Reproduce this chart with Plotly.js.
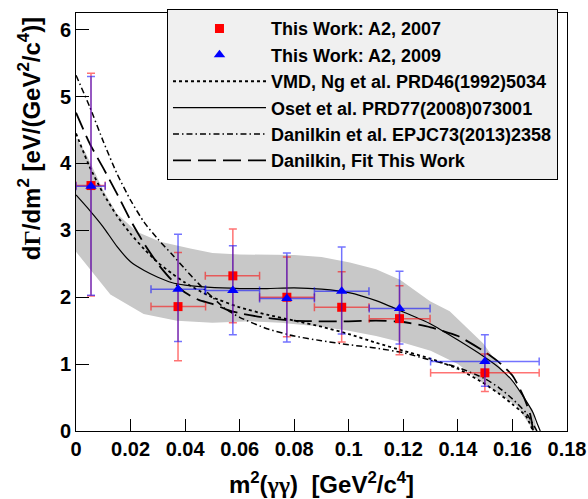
<!DOCTYPE html>
<html>
<head>
<meta charset="utf-8">
<script src="https://cdn.plot.ly/plotly-3.0.1.min.js"></script>
<style>html,body{margin:0;padding:0;background:#fff;}#chart{width:588px;height:499px;}</style>
</head>
<body>
<div id="chart"></div>
<script>
// ---- Data ----
// A2 2007 (red squares)
const x2007 = [0.0055, 0.0374, 0.0575, 0.0773, 0.0974, 0.1186, 0.1499];
const y2007 = [3.67, 1.86, 2.32, 2.00, 1.85, 1.68, 0.87];
const y2007Hi = [5.35, 2.67, 3.02, 2.60, 2.38, 2.17, 1.15];
const y2007Lo = [2.02, 1.05, 1.62, 1.41, 1.33, 1.14, 0.59];
// A2 2009 (blue triangles)
const x2009 = [0.0055, 0.0374, 0.0575, 0.0773, 0.0974, 0.1186, 0.1499];
const y2009 = [3.66, 2.12, 2.10, 1.98, 2.09, 1.83, 1.04];
const y2009Hi = [5.30, 2.94, 2.77, 2.66, 2.75, 2.39, 1.44];
const y2009Lo = [2.03, 1.34, 1.44, 1.33, 1.45, 1.30, 0.67];
// bin edges (shared)
const binLo = [0.0, 0.0275, 0.0474, 0.0673, 0.0874, 0.1075, 0.1300];
const binHi = [0.0107, 0.0475, 0.0673, 0.0874, 0.1074, 0.1298, 0.1698];

// Theory curves
const vmdX = [0, 0.005, 0.01, 0.015, 0.02, 0.025, 0.03, 0.035, 0.04, 0.045, 0.05, 0.06, 0.07, 0.08, 0.09, 0.1, 0.11, 0.12, 0.13, 0.14, 0.15, 0.155, 0.16, 0.165, 0.1675];
const vmdY = [4.45, 3.95, 3.55, 3.22, 2.95, 2.72, 2.52, 2.36, 2.22, 2.10, 2.00, 1.85, 1.74, 1.65, 1.56, 1.45, 1.32, 1.20, 1.08, 0.93, 0.70, 0.56, 0.40, 0.22, 0.0];

const osetX = [0, 0.005, 0.01, 0.015, 0.02, 0.025, 0.03, 0.035, 0.04, 0.048, 0.06, 0.07, 0.08, 0.09, 0.1, 0.11, 0.12, 0.13, 0.14, 0.15, 0.155, 0.16, 0.165, 0.1676, 0.169, 0.1702];
const osetY = [3.53, 3.30, 3.05, 2.76, 2.53, 2.40, 2.30, 2.22, 2.18, 2.15, 2.13, 2.13, 2.14, 2.12, 2.07, 1.95, 1.78, 1.60, 1.36, 1.10, 0.95, 0.75, 0.45, 0.27, 0.12, 0.0];

const epjcX = [0, 0.005, 0.01, 0.015, 0.02, 0.025, 0.03, 0.035, 0.04, 0.045, 0.05, 0.055, 0.06, 0.07, 0.08, 0.09, 0.1, 0.11, 0.12, 0.13, 0.14, 0.15, 0.155, 0.16, 0.165, 0.169];
const epjcY = [5.32, 4.85, 4.33, 3.85, 3.45, 3.12, 2.87, 2.65, 2.42, 2.20, 2.00, 1.82, 1.70, 1.53, 1.42, 1.35, 1.29, 1.24, 1.17, 1.06, 0.95, 0.78, 0.65, 0.48, 0.27, 0.0];

const fitX = [0, 0.005, 0.01, 0.015, 0.02, 0.025, 0.03, 0.035, 0.04, 0.045, 0.05, 0.055, 0.06, 0.07, 0.08, 0.09, 0.1, 0.11, 0.12, 0.13, 0.14, 0.15, 0.155, 0.16, 0.164, 0.1665, 0.1676];
const fitY = [4.76, 4.30, 3.93, 3.55, 3.15, 2.80, 2.50, 2.26, 2.07, 1.96, 1.90, 1.82, 1.76, 1.69, 1.65, 1.64, 1.64, 1.65, 1.63, 1.55, 1.42, 1.18, 1.03, 0.83, 0.52, 0.25, 0.0];

// Error band of the fit
const bandUpX = [0, 0.0035, 0.01, 0.015, 0.0223, 0.0309, 0.0419, 0.05, 0.06, 0.08, 0.09, 0.1004, 0.11, 0.1188, 0.1298, 0.137, 0.1493, 0.1554, 0.1615, 0.1675, 0.169];
const bandUpY = [4.38, 4.16, 3.60, 3.25, 2.98, 2.83, 2.73, 2.66, 2.64, 2.63, 2.60, 2.52, 2.42, 2.26, 1.94, 1.79, 1.31, 0.96, 0.66, 0.31, 0.0];
const bandLoX = [0, 0.0126, 0.0248, 0.037, 0.05, 0.064, 0.075, 0.09, 0.1, 0.11, 0.12, 0.13, 0.14, 0.149, 0.1615, 0.1675];
const bandLoY = [2.68, 2.04, 1.75, 1.65, 1.62, 1.64, 1.62, 1.56, 1.50, 1.42, 1.32, 1.20, 1.00, 0.72, 0.38, 0.02];

const legendNames = [
  'This Work: A2, 2007',
  'This Work: A2, 2009',
  'VMD, Ng et al. PRD46(1992)5034',
  'Oset et al. PRD77(2008)073001',
  'Danilkin et al. EPJC73(2013)2358',
  'Danilkin, Fit This Work'
];

// ---- Build traces ----
const FONT = 'Liberation Sans, Arial, Helvetica, sans-serif';
const GREEK = "<span style=\"font-family:'Liberation Serif','DejaVu Serif',serif\">";
const sub = (a, b) => a.map((v, i) => v - b[i]);

const bandTrace = {
  x: bandUpX.concat(bandLoX.slice().reverse()),
  y: bandUpY.concat(bandLoY.slice().reverse()),
  type: 'scatter', mode: 'lines', fill: 'toself',
  fillcolor: 'rgb(200,200,200)', line: {width: 0, color: 'rgba(0,0,0,0)'},
  hoverinfo: 'skip', showlegend: false
};

function curve(x, y, name, dash, width, rank) {
  return {x, y, name, type: 'scatter', mode: 'lines',
    line: {color: '#000', width, dash, shape: 'spline', smoothing: 0.6},
    legendrank: rank};
}

function points(x, y, hi, lo, name, color, ebColor, symbol, size, rank) {
  return {
    x, y, name, type: 'scatter', mode: 'markers', legendrank: rank,
    marker: {color, symbol, size, line: {width: 0}},
    error_y: {type: 'data', symmetric: false, array: sub(hi, y), arrayminus: sub(y, lo),
      color: ebColor, thickness: 1.5, width: 4},
    error_x: {type: 'data', symmetric: false, array: sub(binHi, x), arrayminus: sub(x, binLo),
      color: ebColor, thickness: 1.5, width: 4}
  };
}

const traces = [
  bandTrace,
  curve(vmdX, vmdY, legendNames[2], '3px,3px', 1.8, 3),
  curve(osetX, osetY, legendNames[3], 'solid', 1.2, 4),
  curve(epjcX, epjcY, legendNames[4], '6px,3px,1.5px,3px', 1.5, 5),
  curve(fitX, fitY, legendNames[5], '18px,7px', 1.8, 6),
  points(x2007, y2007, y2007Hi, y2007Lo, legendNames[0], '#ff0000', 'rgba(255,0,0,0.55)', 'square', 9, 1),
  points(x2009, y2009, y2009Hi, y2009Lo, legendNames[1], '#0000ff', 'rgba(0,0,255,0.55)', 'triangle-up', 10, 2)
];

const layout = {
  width: 588, height: 499,
  margin: {l: 76, r: 21, t: 9, b: 68},
  paper_bgcolor: '#fff', plot_bgcolor: '#fff',
  font: {family: FONT, color: '#000'},
  showlegend: true,
  legend: {
    x: 0.1853, xanchor: 'left', y: 1.009, yanchor: 'top',
    bgcolor: '#f0f0f0', bordercolor: '#000', borderwidth: 1,
    font: {family: FONT, size: 18, weight: 'bold', color: '#000'},
    itemwidth: 93, traceorder: 'normal'
  },
  xaxis: {
    range: [0, 0.18], tickvals: [0, 0.02, 0.04, 0.06, 0.08, 0.1, 0.12, 0.14, 0.16, 0.18],
    ticktext: ['0', '0.02', '0.04', '0.06', '0.08', '0.1', '0.12', '0.14', '0.16', '0.18'],
    ticks: 'inside', ticklen: 12, tickwidth: 1, tickcolor: '#000',
    showline: true, linecolor: '#000', linewidth: 1, mirror: true,
    showgrid: false, zeroline: false,
    tickfont: {family: FONT, size: 20, weight: 'bold'},
    title: {text: 'm<sup>2</sup>(' + GREEK + 'γγ</span>)  [GeV<sup>2</sup>/c<sup>4</sup>]', font: {family: FONT, size: 24, weight: 'bold'}, standoff: 17}
  },
  yaxis: {
    range: [0, 6.25], tickvals: [0, 1, 2, 3, 4, 5, 6],
    ticks: 'inside', ticklen: 13, tickwidth: 1, tickcolor: '#000',
    showline: true, linecolor: '#000', linewidth: 1, mirror: true,
    showgrid: false, zeroline: false,
    tickfont: {family: FONT, size: 20, weight: 'bold'}
  },
  annotations: [{
    text: 'd' + GREEK + 'Γ</span>/dm<sup>2</sup> [eV/(GeV<sup>2</sup>/c<sup>4</sup>)]',
    xref: 'paper', yref: 'paper', x: -0.094, y: 0.70,
    xanchor: 'center', yanchor: 'middle', textangle: -90, showarrow: false,
    font: {family: FONT, size: 24, weight: 'bold', color: '#000'}
  }]
};

Plotly.newPlot('chart', traces, layout, {displayModeBar: false, staticPlot: true});
</script>
</body>
</html>
